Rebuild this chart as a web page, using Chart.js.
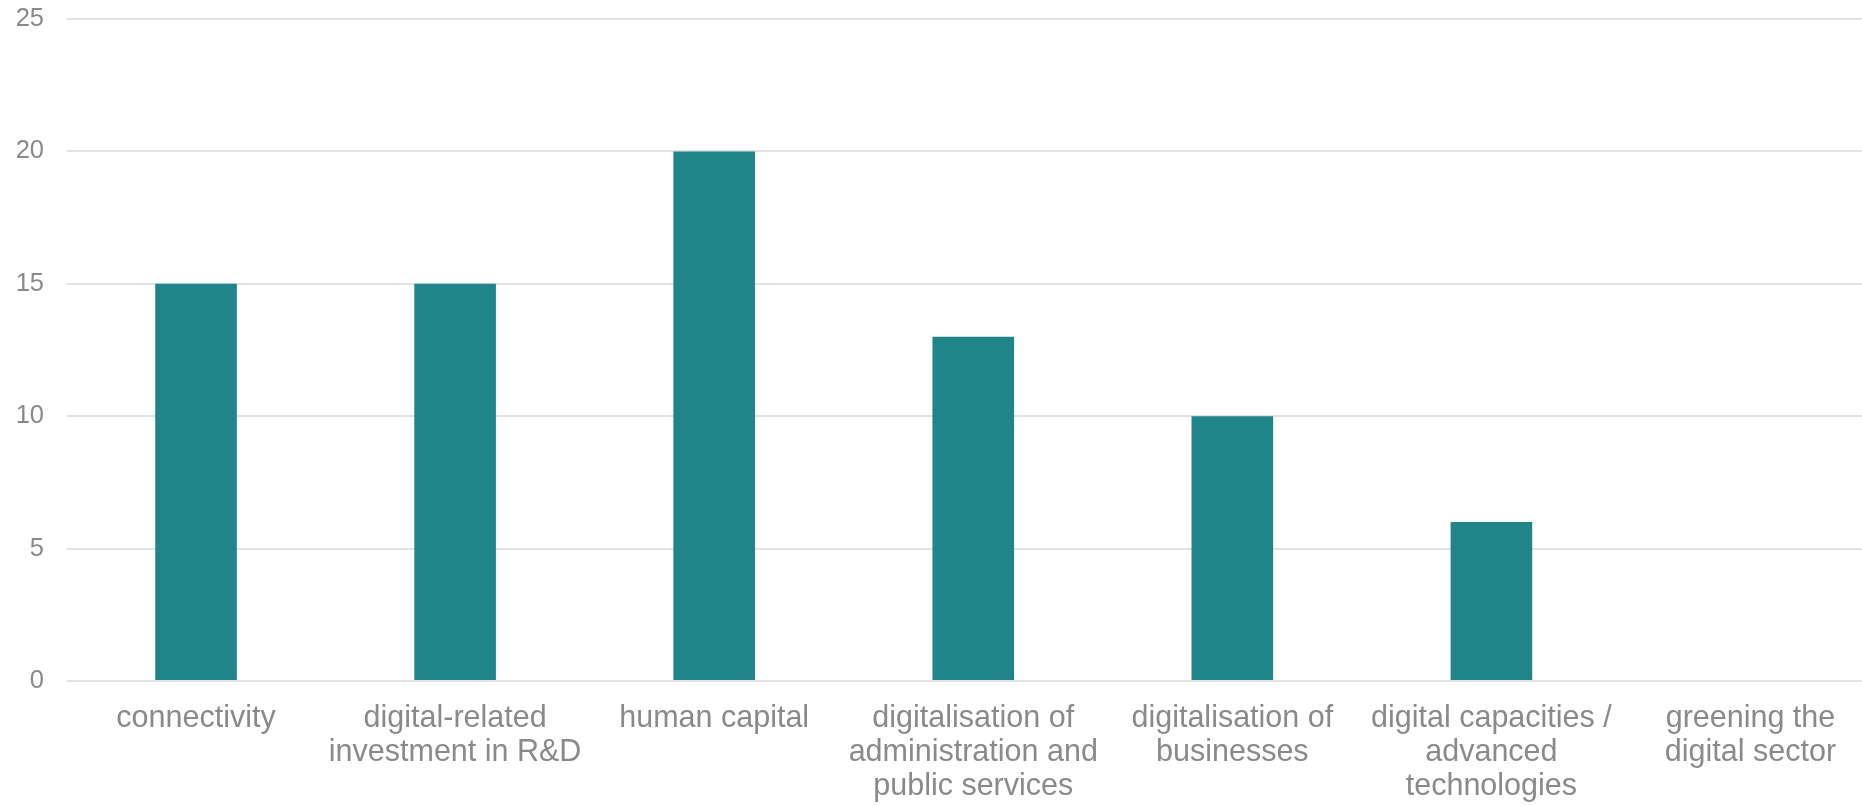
<!DOCTYPE html>
<html>
<head>
<meta charset="utf-8">
<script src="https://cdn.jsdelivr.net/npm/chart.js@4/dist/chart.umd.min.js"></script>
<style>
  html, body { margin: 0; padding: 0; background: #fff; overflow: hidden; }
  #wrap { width: 1880px; height: 806px; }
</style>
</head>
<body>
<div id="wrap"><canvas id="bar-chart"></canvas></div>
<script>
const categories = [
  'connectivity',
  ['digital-related', 'investment in R&D'],
  'human capital',
  ['digitalisation of', 'administration and', 'public services'],
  ['digitalisation of', 'businesses'],
  ['digital capacities /', 'advanced', 'technologies'],
  ['greening the', 'digital sector']
];
const values = [15, 15, 20, 13, 10, 6, 0];
const yTicks = [0, 5, 10, 15, 20, 25];

const fontFamily = '"Liberation Sans", Arial, sans-serif';
const grey = '#8a8a8a';

// the plot runs a little past the right edge of the window, as in the source image
const ctx = document.getElementById('bar-chart');
new Chart(ctx, {
  type: 'bar',
  data: {
    labels: categories,
    datasets: [{
      data: values,
      backgroundColor: '#1f8589',
      borderWidth: 0,
      barPercentage: 0.63,
      categoryPercentage: 0.5
    }]
  },
  options: {
    responsive: true,
    maintainAspectRatio: false,
    animation: false,
    layout: { padding: { top: 19, right: 0, left: 0, bottom: 0 } },
    plugins: {
      legend: { display: false },
      tooltip: { enabled: false }
    },
    scales: {
      x: {
        afterFit: (axis) => {
          axis.height = 125;
          axis.paddingLeft = 0;
          axis.paddingRight = 0;
        },
        grid: { display: false, drawTicks: false },
        border: { display: false },
        ticks: {
          autoSkip: false,
          maxRotation: 0,
          minRotation: 0,
          padding: 21,
          color: grey,
          font: { family: fontFamily, size: 30.5, lineHeight: 1.115 }
        }
      },
      y: {
        min: 0,
        max: 25,
        afterBuildTicks: (axis) => { axis.ticks = yTicks.map((v) => ({ value: v })); },
        afterFit: (axis) => {
          axis.width = 66.5;
          axis.paddingTop = 0;
          axis.paddingBottom = 0;
        },
        grid: { color: '#e2e2e2', lineWidth: 2, drawTicks: false },
        border: { display: false },
        ticks: {
          padding: 22.5,
          color: grey,
          font: { family: fontFamily, size: 25.5 }
        }
      }
    }
  }
});
</script>
</body>
</html>
